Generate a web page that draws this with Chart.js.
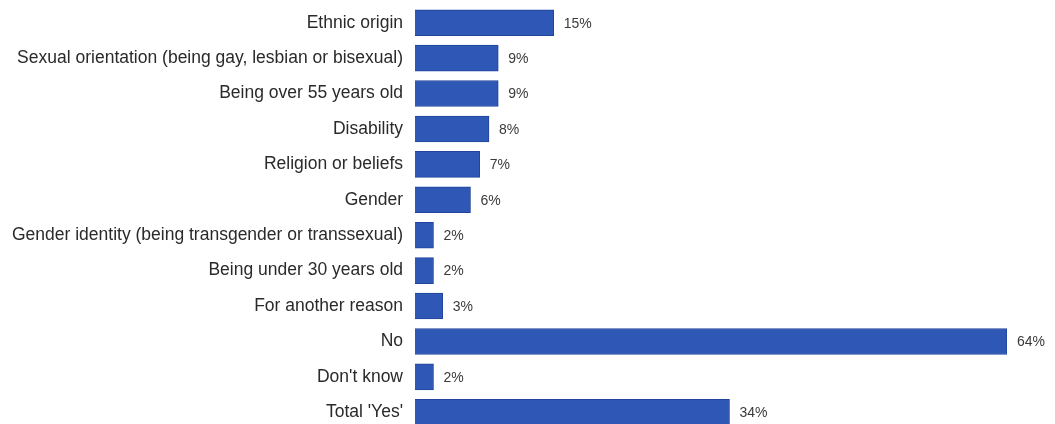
<!DOCTYPE html>
<html>
<head>
<meta charset="utf-8">
<script src="https://cdn.jsdelivr.net/npm/chart.js@4"></script>
<style>
  html, body { margin: 0; padding: 0; background: #ffffff; overflow: hidden; }
  #wrap { width: 1055px; height: 430px; position: relative; }
</style>
</head>
<body>
<div id="wrap"><canvas id="chart"></canvas></div>
<script>
// Categorias e valores (%)
const categorias = [
    'Ethnic origin',
    'Sexual orientation (being gay, lesbian or bisexual)',
    'Being over 55 years old',
    'Disability',
    'Religion or beliefs',
    'Gender',
    'Gender identity (being transgender or transsexual)',
    'Being under 30 years old',
    'For another reason',
    'No',
    "Don't know",
    "Total 'Yes'"
];
const valores = [15, 9, 9, 8, 7, 6, 2, 2, 3, 64, 2, 34];

// Rótulos de valor ao lado das barras
const rotulosPlugin = {
    id: 'rotulos',
    afterDatasetsDraw(chart) {
        const ctx = chart.ctx;
        const meta = chart.getDatasetMeta(0);
        ctx.save();
        ctx.font = '14px "Liberation Sans", Arial, sans-serif';
        ctx.fillStyle = '#3a3a3a';
        ctx.textAlign = 'left';
        ctx.textBaseline = 'middle';
        meta.data.forEach((bar, i) => {
            ctx.fillText(valores[i] + '%', bar.x + 10, bar.y + 1);
        });
        ctx.restore();
    }
};

new Chart(document.getElementById('chart'), {
    type: 'bar',
    data: {
        labels: categorias,
        datasets: [{
            data: valores,
            backgroundColor: '#2e57b6',
            borderColor: '#22449a',
            borderWidth: 1,
            barThickness: 26
        }]
    },
    options: {
        indexAxis: 'y',
        responsive: true,
        maintainAspectRatio: false,
        animation: false,
        layout: { padding: { top: 5, right: 48, bottom: 0, left: 0 } },
        plugins: {
            legend: { display: false },
            tooltip: { enabled: false }
        },
        scales: {
            x: {
                display: false,
                min: 0,
                max: 64
            },
            y: {
                afterFit(scale) {
                    scale.width = 415;
                    scale.paddingTop = 0;
                    scale.paddingBottom = 0;
                },
                grid: { display: false, drawTicks: false },
                border: { display: false },
                ticks: {
                    padding: 12,
                    color: '#2a2a2a',
                    font: { family: '"Liberation Sans", Arial, sans-serif', size: 17.5 }
                }
            }
        }
    },
    plugins: [rotulosPlugin]
});
</script>
</body>
</html>
